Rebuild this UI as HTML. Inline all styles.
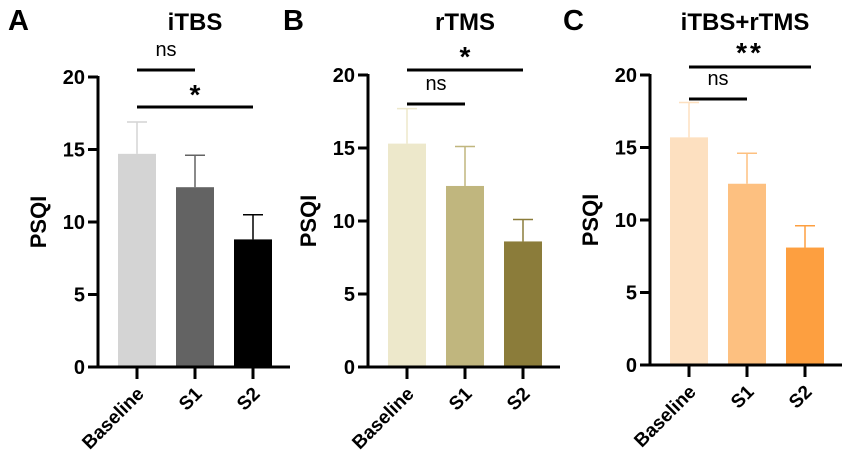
<!DOCTYPE html>
<html><head><meta charset="utf-8"><style>
html,body{margin:0;padding:0;background:#fff;}
svg{display:block;font-family:"Liberation Sans",Arial,sans-serif;font-weight:bold;}
</style></head><body>
<svg id="c" width="850" height="467" viewBox="0 0 850 467"></svg>
<script>
const categories = ["Baseline","S1","S2"];
const yTicks = [0,5,10,15,20];
const itbsMeans = [14.7,12.4,8.8];
const itbsErr = [2.2,2.2,1.7];
const rtmsMeans = [15.3,12.4,8.6];
const rtmsErr = [2.4,2.7,1.5];
const comboMeans = [15.7,12.5,8.1];
const comboErr = [2.4,2.1,1.5];
const panelTitles = ["iTBS","rTMS","iTBS+rTMS"];
const panelLetters = ["A","B","C"];

const NS="http://www.w3.org/2000/svg";
const svg=document.getElementById('c');
function mk(tag,attrs,parent,text){const e=document.createElementNS(NS,tag);for(const k in attrs)e.setAttribute(k,attrs[k]);if(text!==undefined)e.textContent=text;(parent||svg).appendChild(e);return e;}

const panels=[
 {ax:98,y0:367,y20:77,letterX:8,titleX:195,means:itbsMeans,err:itbsErr,colors:["#d4d4d4","#636363","#000000"],errColors:["#d4d4d4","#636363","#000000"],
  sig:[{a:0,b:1,v:70,t:"ns",ty:56},{a:0,b:2,v:107,t:"*",ty:104}]},
 {ax:368,y0:367,y20:75,letterX:283,titleX:465,means:rtmsMeans,err:rtmsErr,colors:["#ede8cb","#c0b67e","#8b7c3a"],errColors:["#ede8cb","#c0b67e","#8b7c3a"],
  sig:[{a:0,b:2,v:70,t:"*",ty:66},{a:0,b:1,v:104,t:"ns",ty:90}]},
 {ax:650,y0:365,y20:75,letterX:563,titleX:745,means:comboMeans,err:comboErr,colors:["#fde0c0","#fdc080","#fd9f40"],errColors:["#fde0c0","#fdc080","#fd9f40"],
  sig:[{a:0,b:2,v:67,t:"**",ty:62,bx:811},{a:0,b:1,v:99,t:"ns",ty:85}]}
];

panels.forEach((p,pi)=>{
  const g=mk('g',{});
  const y=v=>p.y0-(p.y0-p.y20)*v/20;
  const xc=i=>p.ax+39+i*58;
  const t1=mk('text',{x:p.letterX,y:30,'font-size':29},g,panelLetters[pi]);
  
  const t2=mk('text',{x:p.titleX,y:30,'font-size':24,'text-anchor':'middle'},g,panelTitles[pi]);
  
  p.means.forEach((m,i)=>{
    const top=y(m+p.err[i]);
    const el=mk('line',{x1:xc(i),x2:xc(i),y1:y(m),y2:top,stroke:p.errColors[i],'stroke-width':1.5},g);
    
    const cap=mk('line',{x1:xc(i)-10,x2:xc(i)+10,y1:top,y2:top,stroke:p.errColors[i],'stroke-width':1.5},g);
    
    const r=mk('rect',{x:xc(i)-19,y:y(m),width:38,height:y(0)-y(m)-1,fill:p.colors[i]},g);
    
  });
  const ya=mk('line',{x1:p.ax,x2:p.ax,y1:y(20)-1,y2:y(0)+1.5,stroke:'#000','stroke-width':3},g);
  
  const xa=mk('line',{x1:p.ax-1.5,x2:p.ax+192,y1:y(0),y2:y(0),stroke:'#000','stroke-width':3},g);
  
  yTicks.forEach(v=>{
    const tk=mk('line',{x1:p.ax-10,x2:p.ax,y1:y(v),y2:y(v),stroke:'#000','stroke-width':3},g);
    
    const tl=mk('text',{x:p.ax-13,y:y(v)+7,'font-size':20,'text-anchor':'end'},g,String(v));
    
  });
  categories.forEach((c,i)=>{
    const tk=mk('line',{x1:xc(i),x2:xc(i),y1:y(0),y2:y(0)+12,stroke:'#000','stroke-width':3},g);
    
    const tl=mk('text',{x:0,y:0,'font-size':19,'text-anchor':'end',transform:`translate(${xc(i)+8},${y(0)+28}) rotate(-45)`},g,c);
    
  });
  const yl=mk('text',{x:0,y:0,'font-size':22,'text-anchor':'middle',transform:`translate(${p.ax-52},${(y(0)+y(20))/2}) rotate(-90)`},g,'PSQI');
  
  p.sig.forEach(s=>{
    const x2=s.bx||xc(s.b);
    const l=mk('line',{x1:xc(s.a),x2:x2,y1:s.v,y2:s.v,stroke:'#000','stroke-width':3},g);
    
    const t=mk('text',{x:(xc(s.a)+x2)/2,y:s.ty,'font-size':s.t==='ns'?20:28,'font-weight':s.t==='ns'?'normal':'bold','text-anchor':'middle','letter-spacing':s.t==='**'?3:0},g,s.t);
    
  });
});
</script>
</body></html>
